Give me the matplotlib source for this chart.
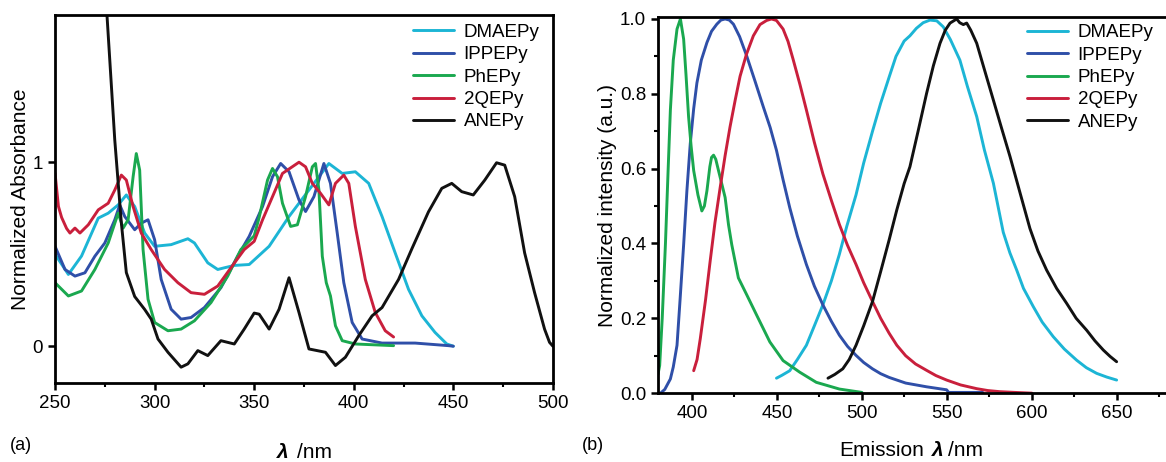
import matplotlib
matplotlib.use("Agg")
import matplotlib.pyplot as plt
from matplotlib.ticker import MultipleLocator

plt.rcParams['font.family'] = ['Liberation Sans', 'DejaVu Sans']

names = ["DMAEPy", "IPPEPy", "PhEPy", "2QEPy", "ANEPy"]
colors = ["#1cb5d5", "#2f4fa8", "#1aa84f", "#c91f3c", "#111111"]

# (a) absorbance
abs_dmaepy_x = [250, 256.7, 263.3, 271.7, 276.7, 281.7, 285.8, 290, 295, 300, 308.3, 316.7, 320, 326.7, 331.7,
                335, 340, 347.5, 357.5, 367.5, 377.5, 387.5, 394.2, 400.8, 407.5, 414.2, 420.8, 427.5, 434.2,
                440.8, 446.7, 450]
abs_dmaepy_y = [0.50, 0.39, 0.49, 0.696, 0.723, 0.768, 0.822, 0.759, 0.615, 0.543, 0.552, 0.584, 0.561, 0.453,
                0.417, 0.426, 0.439, 0.444, 0.543, 0.705, 0.849, 0.993, 0.939, 0.948, 0.885, 0.705, 0.507, 0.309,
                0.165, 0.075, 0.012, 0.0]

abs_ippepy_x = [250, 255, 260, 265, 270, 275, 280, 282.5, 285, 290, 293.3, 296.7, 300, 303.3, 308.3, 313.3,
                318.3, 325, 333.3, 341.7, 347.5, 354.2, 359.2, 363.3, 367.5, 372.5, 375.8, 380, 385, 388.3,
                391.7, 395, 399.2, 404.2, 414.2, 430.8, 447.5, 450]
abs_ippepy_y = [0.543, 0.417, 0.381, 0.399, 0.489, 0.561, 0.687, 0.768, 0.705, 0.633, 0.669, 0.687, 0.579, 0.363,
                0.201, 0.147, 0.156, 0.21, 0.318, 0.489, 0.597, 0.759, 0.921, 0.993, 0.948, 0.795, 0.732, 0.813,
                0.993, 0.885, 0.615, 0.345, 0.129, 0.039, 0.017, 0.017, 0.003, 0.0]

abs_phepy_x = [250, 256.7, 263.3, 270, 276.7, 281.7, 284.2, 286.7, 289.2, 290.8, 292.5, 294.2, 296.7, 300,
               306.7, 313.3, 320, 328.3, 336.7, 343.3, 350, 352.5, 356.7, 359.2, 361.7, 364.2, 368.3, 371.7,
               375.8, 379.2, 380.8, 382.5, 384.2, 386.2, 388.3, 390.8, 394.2, 400.8, 420]
abs_phepy_y = [0.345, 0.273, 0.30, 0.417, 0.561, 0.723, 0.642, 0.687, 0.921, 1.047, 0.957, 0.525, 0.255, 0.129,
               0.084, 0.093, 0.138, 0.237, 0.381, 0.525, 0.60, 0.70, 0.903, 0.966, 0.921, 0.777, 0.651, 0.66,
               0.813, 0.975, 0.993, 0.849, 0.489, 0.345, 0.273, 0.111, 0.030, 0.012, 0.003]

abs_2qepy_x = [250, 251.7, 253.3, 255.8, 257.5, 260, 262.5, 266.7, 271.7, 276.7, 280, 283.3, 285.8, 289.2,
               293.3, 298.3, 305, 311.7, 318.3, 325, 331.7, 338.3, 345, 350, 354.2, 359.2, 364.2, 372.5, 375.8,
               379.2, 383.3, 387.5, 390.8, 395, 397.5, 400.8, 405.8, 410.8, 415.8, 420]
abs_2qepy_y = [0.94, 0.76, 0.70, 0.64, 0.615, 0.642, 0.615, 0.66, 0.741, 0.777, 0.849, 0.93, 0.903, 0.759,
               0.615, 0.525, 0.417, 0.345, 0.291, 0.282, 0.327, 0.426, 0.525, 0.57, 0.687, 0.813, 0.939, 1.0,
               0.975, 0.885, 0.831, 0.768, 0.885, 0.93, 0.885, 0.651, 0.363, 0.183, 0.084, 0.05]

abs_anepy_x = [275.5, 280, 283.3, 285.8, 290, 295, 298.3, 301.7, 306.7, 313.3, 316.7, 321.7, 326.7, 333.3, 340,
               345, 350, 352.5, 357.5, 362.5, 367.5, 372.5, 377.5, 385.8, 390.8, 395.8, 402.5, 409.2, 414.2,
               422.5, 429.2, 437.5, 444.2, 449.2, 454.2, 460, 465.8, 471.7, 475.8, 480.8, 485.8, 490.8, 495.8,
               498.3, 500]
abs_anepy_y = [1.9, 1.12, 0.67, 0.40, 0.27, 0.20, 0.147, 0.039, -0.033, -0.114, -0.096, -0.024, -0.051, 0.03,
               0.012, 0.093, 0.18, 0.174, 0.093, 0.201, 0.372, 0.183, -0.015, -0.033, -0.105, -0.06, 0.057,
               0.165, 0.21, 0.363, 0.53, 0.73, 0.858, 0.885, 0.84, 0.822, 0.903, 0.997, 0.984, 0.813, 0.507,
               0.291, 0.093, 0.021, 0.0]

# (b) emission
em_dmaepy_x = [449.7, 453, 457.5, 462, 467.3, 472, 477, 482, 486.7, 491, 496.5, 501, 506.2, 511, 516, 520,
               524.8, 528.2, 532, 536, 540, 544, 547.8, 552, 557.6, 562, 567.5, 572, 577.3, 583.1, 587, 591,
               595, 600.8, 606, 612.5, 619, 626.3, 632, 638, 644, 649.8]
em_dmaepy_y = [0.04, 0.048, 0.06, 0.09, 0.128, 0.18, 0.236, 0.30, 0.371, 0.445, 0.53, 0.615, 0.70, 0.775,
               0.845, 0.90, 0.941, 0.955, 0.975, 0.99, 0.997, 0.995, 0.979, 0.945, 0.89, 0.82, 0.739, 0.65,
               0.561, 0.43, 0.375, 0.329, 0.28, 0.231, 0.19, 0.151, 0.118, 0.088, 0.068, 0.053, 0.043, 0.035]

em_ippepy_x = [381.5, 384, 387.3, 389, 391.2, 393, 395.1, 397, 399, 401, 402.9, 405.5, 408.8, 411.5, 414.6,
               417, 419.5, 422, 424.4, 428, 432.2, 437, 441.9, 446, 449.7, 453.5, 457.5, 462, 467.3, 472, 477,
               482, 486.7, 491.5, 496.5, 501, 506.2, 511, 516, 525.7, 538, 549.8, 551, 571]
em_ippepy_y = [0.0, 0.01, 0.038, 0.07, 0.128, 0.25, 0.397, 0.54, 0.667, 0.76, 0.829, 0.89, 0.937, 0.967, 0.986,
               0.997, 1.0, 0.997, 0.986, 0.953, 0.901, 0.835, 0.766, 0.71, 0.649, 0.572, 0.496, 0.42, 0.344,
               0.286, 0.236, 0.192, 0.155, 0.125, 0.101, 0.082, 0.065, 0.052, 0.042, 0.027, 0.017, 0.009,
               0.002, 0.002]

em_phepy_x = [380, 381, 382.5, 384.4, 386, 387.3, 389, 391.2, 393.2, 395.1, 396.5, 398, 399.5, 401, 403.5,
              405.8, 407.3, 408.8, 410.5, 411.5, 412.7, 414, 415.6, 419.5, 421.5, 423.4, 427.3, 432.2, 438,
              445.8, 453.6, 463.4, 473.1, 486.7, 500]
em_phepy_y = [0.05, 0.074, 0.20, 0.40, 0.60, 0.757, 0.89, 0.973, 1.0, 0.946, 0.85, 0.739, 0.66, 0.595, 0.53,
              0.487, 0.50, 0.541, 0.605, 0.63, 0.636, 0.625, 0.595, 0.523, 0.45, 0.397, 0.308, 0.263, 0.209,
              0.137, 0.087, 0.056, 0.029, 0.011, 0.002]

em_2qepy_x = [401, 403, 404.9, 408, 410.7, 413.5, 416.6, 419.5, 422.4, 425.5, 428.3, 432, 436.1, 440, 443.9,
              446.8, 449.7, 453.6, 456.5, 459.5, 463.5, 467.3, 472, 477, 482, 486.7, 491.5, 496.5, 501, 506.2,
              511, 516, 520.5, 525.7, 531.5, 538, 543.5, 549.8, 558, 567.5, 574, 581, 590, 600]
em_2qepy_y = [0.06, 0.09, 0.146, 0.25, 0.353, 0.455, 0.55, 0.635, 0.712, 0.785, 0.847, 0.905, 0.955, 0.985,
              0.996, 1.0, 0.996, 0.973, 0.94, 0.892, 0.825, 0.757, 0.67, 0.586, 0.515, 0.451, 0.395, 0.344,
              0.295, 0.245, 0.20, 0.160, 0.128, 0.100, 0.078, 0.061, 0.047, 0.035, 0.022, 0.012, 0.007, 0.004,
              0.002, 0.0]

em_anepy_x = [480, 484, 488.7, 492.5, 496.5, 501, 506.2, 511, 516, 520.5, 524.8, 528.2, 533, 538, 542, 545.9,
              549, 551.8, 555.7, 557.5, 559.6, 561.6, 564, 567.5, 572, 577.3, 582, 587.1, 593, 598.8, 603.5,
              608.6, 614.5, 620.4, 626, 632.2, 637, 642, 646, 649.8]
em_anepy_y = [0.04, 0.05, 0.065, 0.09, 0.128, 0.18, 0.245, 0.325, 0.41, 0.49, 0.56, 0.605, 0.70, 0.801, 0.875,
              0.935, 0.97, 0.989, 1.0, 0.99, 0.985, 0.989, 0.97, 0.935, 0.865, 0.783, 0.71, 0.632, 0.535, 0.44,
              0.38, 0.329, 0.28, 0.24, 0.20, 0.168, 0.14, 0.115, 0.098, 0.084]

abs_series = [(abs_dmaepy_x, abs_dmaepy_y), (abs_ippepy_x, abs_ippepy_y), (abs_phepy_x, abs_phepy_y),
              (abs_2qepy_x, abs_2qepy_y), (abs_anepy_x, abs_anepy_y)]
em_series = [(em_dmaepy_x, em_dmaepy_y), (em_ippepy_x, em_ippepy_y), (em_phepy_x, em_phepy_y),
             (em_2qepy_x, em_2qepy_y), (em_anepy_x, em_anepy_y)]

fig = plt.figure(figsize=(11.66, 4.62), dpi=100)
ax1 = fig.add_axes([0.0472, 0.171, 0.427, 0.7965])
ax2 = fig.add_axes([0.5643, 0.149, 0.4374, 0.814])

for ax, series in ((ax1, abs_series), (ax2, em_series)):
    for (x, y), name, c in zip(series, names, colors):
        ax.plot(x, y, color=c, lw=2.1, label=name, solid_joinstyle='round', solid_capstyle='round')
    for s in ax.spines.values():
        s.set_linewidth(2.0)
    ax.tick_params(which='major', direction='out', length=5, width=1.8, labelsize=13.5)
    ax.tick_params(which='minor', direction='out', length=3, width=1.5)

ax1.set_xlim(250, 500)
ax1.set_ylim(-0.2, 1.8)
ax1.set_xticks([250, 300, 350, 400, 450, 500])
ax1.xaxis.set_minor_locator(MultipleLocator(25))
ax1.set_yticks([0, 1])
ax1.set_yticklabels(['0', '1'])
ax1.set_ylabel('Normalized Absorbance', fontsize=15, labelpad=2)

ax2.set_xlim(380, 680)
ax2.set_ylim(0, 1.005)
ax2.set_xticks([400, 450, 500, 550, 600, 650])
ax2.xaxis.set_minor_locator(MultipleLocator(25))
ax2.set_yticks([0, 0.2, 0.4, 0.6, 0.8, 1.0])
ax2.set_yticklabels(['0.0', '0.2', '0.4', '0.6', '0.8', '1.0'])
ax2.yaxis.set_minor_locator(MultipleLocator(0.1))
ax2.set_ylabel('Normalized intensity (a.u.)', fontsize=15, labelpad=2)

for ax, x0, y0 in ((ax1, 0.719, 0.976), (ax2, 0.7235, 0.981)):
    ax.legend(loc='upper left', bbox_to_anchor=(x0, y0), frameon=False, fontsize=13.5,
              handlelength=2.2, handletextpad=0.5, labelspacing=0.28, borderpad=0, borderaxespad=0)

# panel labels and x labels
fig.text(10 / 1166, 1 - 445 / 462, '(a)', fontsize=13, va='center', ha='left')
fig.text(582 / 1166, 1 - 445 / 462, '(b)', fontsize=13, va='center', ha='left')
fig.text(277 / 1166, 1 - 452 / 462, 'λ', fontsize=15, fontweight='bold', fontstyle='italic',
         va='center', ha='left')
fig.text(297 / 1166, 1 - 452 / 462, '/nm', fontsize=15, va='center', ha='left')
fig.text(924 / 1166, 1 - 450 / 462, 'Emission', fontsize=15, va='center', ha='right')
fig.text(932 / 1166, 1 - 450 / 462, 'λ', fontsize=15, fontweight='bold', fontstyle='italic',
         va='center', ha='left')
fig.text(948 / 1166, 1 - 450 / 462, '/nm', fontsize=15, va='center', ha='left')

fig.savefig('out.png', dpi=100)
